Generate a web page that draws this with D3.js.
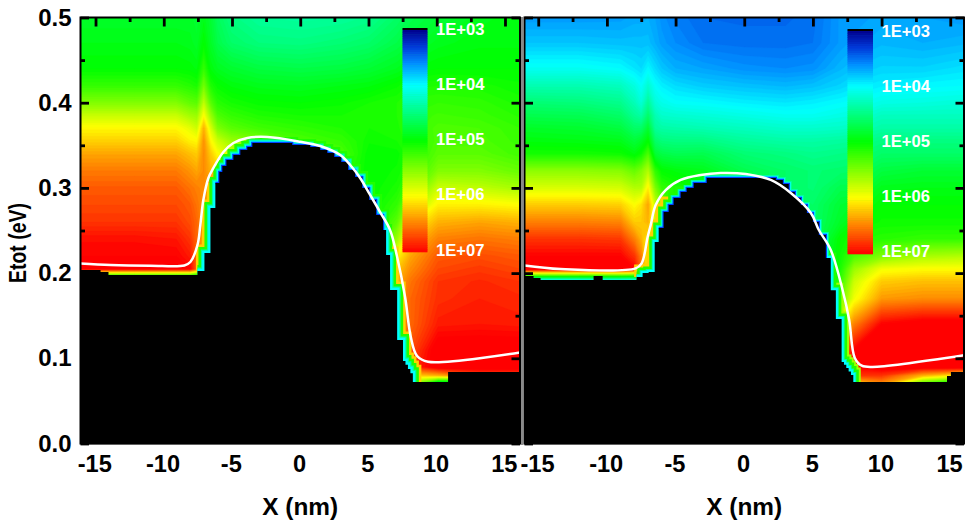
<!DOCTYPE html>
<html><head><meta charset="utf-8">
<script src="https://cdn.jsdelivr.net/npm/d3@7"></script>
<style>html,body{margin:0;padding:0;background:#fff}svg{display:block}text{font-family:"Liberation Sans",Arial,sans-serif;font-weight:bold}</style>
</head><body><svg id="c" width="968" height="522"></svg>
<script>
// grid knots (nm, eV)
const gridX=[-16,-12,-9,-8,-7.5,-7,-6.5,-6,-5,-3,0,3,5,7,8,10,13,16];
const gridE=[.5,.47,.44,.42,.40,.385,.37,.355,.34,.32,.30,.28,.26,.24,.22,.205,.19,.17,.14,.11,.09,.08,.07,.04];
// log10 density, one row per gridE
const densityLeft=[
4.85,4.85,4.85,4.85,4.82,4.9,4.8,4.65,4.5,4.4,4.38,4.4,4.45,4.6,4.7,4.8,4.9,4.95,
4.92,4.92,4.92,4.9,4.85,5.0,4.85,4.72,4.6,4.52,4.5,4.55,4.6,4.72,4.8,4.9,4.95,4.95,
5.0,5.0,5.0,4.98,4.95,5.2,4.95,4.88,4.82,4.75,4.72,4.75,4.8,4.88,4.95,5.0,5.0,5.0,
5.2,5.2,5.2,5.14,5.1,5.45,5.12,5.02,4.95,4.9,4.88,4.92,4.95,5.03,5.1,5.12,5.1,5.05,
5.5,5.5,5.5,5.38,5.35,5.75,5.35,5.15,5.08,5.02,5.0,5.03,5.08,5.12,5.18,5.2,5.18,5.1,
5.78,5.78,5.78,5.64,5.6,6.0,5.6,5.3,5.2,5.12,5.08,5.08,5.08,5.12,5.2,5.25,5.22,5.15,
6.02,6.02,6.02,5.9,5.8,6.3,5.85,5.5,5.35,5.25,5.18,5.12,5.08,5.1,5.2,5.3,5.28,5.2,
6.18,6.18,6.18,6.05,6.02,6.42,6.02,5.8,5.6,5.5,5.3,5.2,5.05,5.08,5.15,5.3,5.3,5.22,
6.35,6.35,6.35,6.25,6.2,6.45,6.2,6.0,5.8,5.5,5.5,5.3,5.0,5.02,5.12,5.35,5.35,5.25,
6.52,6.52,6.52,6.42,6.35,6.45,6.3,6.2,6.0,5.8,5.6,5.2,5.0,5.05,5.15,5.5,5.5,5.4,
6.65,6.65,6.65,6.55,6.5,6.45,6.4,6.3,6.0,5.8,5.6,5.2,5.0,5.1,5.3,5.8,5.75,5.65,
6.72,6.72,6.72,6.65,6.55,6.45,6.3,5.8,5.8,5.8,5.6,5.2,5.0,5.2,5.6,6.05,6.05,6.0,
6.8,6.8,6.8,6.7,6.6,6.4,6.2,5.8,5.8,5.8,5.6,5.2,5.0,5.35,5.95,6.3,6.35,6.3,
6.95,6.95,6.92,6.8,6.6,6.3,6.0,5.8,5.8,5.8,5.6,5.2,5.0,5.6,6.2,6.5,6.55,6.5,
7.0,7.0,7.0,6.9,6.6,6.2,5.8,5.8,5.8,5.8,5.6,5.2,5.2,6.0,6.35,6.65,6.7,6.65,
7.0,7.0,7.0,7.0,6.6,6.1,5.8,5.8,5.8,5.8,5.6,5.2,5.2,6.2,6.45,6.72,6.78,6.72,
3.4,3.4,3.4,3.4,3.4,3.4,3.4,3.4,3.4,3.4,3.4,3.4,5.2,6.3,6.55,6.8,6.85,6.8,
3.4,3.4,3.4,3.4,3.4,3.4,3.4,3.4,3.4,3.4,3.4,3.4,5.2,6.4,6.6,6.82,6.88,6.85,
3.4,3.4,3.4,3.4,3.4,3.4,3.4,3.4,3.4,3.4,3.4,3.4,5.2,6.4,6.6,6.9,6.92,6.9,
3.4,3.4,3.4,3.4,3.4,3.4,3.4,3.4,3.4,3.4,3.4,3.4,5.2,6.4,6.7,7.1,7.1,7.1,
3.4,3.4,3.4,3.4,3.4,3.4,3.4,3.4,3.4,3.4,3.4,3.4,5.2,6.4,6.8,7.1,7.1,7.1,
3.4,3.4,3.4,3.4,3.4,3.4,3.4,3.4,3.4,3.4,3.4,3.4,5.2,6.0,6.2,6.3,6.7,6.7,
3.4,3.4,3.4,3.4,3.4,3.4,3.4,3.4,3.4,3.4,3.4,3.4,3.4,5.0,5.5,4.4,3.8,3.8,
3,3,3,3,3,3,3,3,3,3,3,3,3,3,3,3,3,3];
const densityRight=[
3.65,3.65,3.66,3.7,3.7,3.72,3.68,3.62,3.55,3.48,3.47,3.47,3.5,3.65,3.65,3.7,3.68,3.65,
3.8,3.8,3.78,3.78,3.78,3.78,3.72,3.66,3.6,3.52,3.5,3.5,3.52,3.65,3.7,3.75,3.72,3.75,
4.05,4.05,4.0,3.92,3.88,3.98,3.88,3.8,3.72,3.68,3.62,3.6,3.62,3.75,3.8,3.85,3.85,3.9,
4.3,4.3,4.25,4.12,4.02,4.18,4.02,3.95,3.88,3.82,3.78,3.75,3.78,3.85,3.9,3.95,3.98,4.0,
4.55,4.52,4.45,4.28,4.15,4.4,4.15,4.08,4.02,4.0,3.95,3.92,3.95,4.0,4.02,4.1,4.12,4.15,
4.7,4.68,4.6,4.42,4.35,4.58,4.3,4.2,4.18,4.15,4.1,4.05,4.05,4.1,4.12,4.25,4.25,4.25,
4.85,4.82,4.75,4.6,4.6,4.8,4.4,4.35,4.33,4.3,4.25,4.2,4.2,4.22,4.25,4.35,4.35,4.35,
4.95,4.93,4.9,4.78,4.85,5.0,4.6,4.52,4.5,4.5,4.4,4.35,4.35,4.38,4.4,4.5,4.5,4.5,
5.08,5.08,5.05,4.95,5.05,5.3,4.8,4.72,4.68,4.7,4.55,4.5,4.45,4.48,4.5,4.6,4.6,4.6,
5.55,5.55,5.52,5.4,5.5,5.7,5.2,5.0,4.95,4.9,4.7,4.6,4.55,4.58,4.6,4.75,4.8,4.8,
5.85,5.85,5.83,5.7,5.7,6.05,5.5,5.2,5.1,5.0,4.7,4.6,4.55,4.7,4.7,4.9,4.92,4.92,
6.2,6.2,6.18,6.0,6.1,6.35,5.8,5.5,5.1,5.0,4.7,4.6,4.6,4.8,4.85,5.0,5.0,5.0,
6.5,6.5,6.48,6.2,6.2,6.3,5.8,5.5,5.1,5.0,4.7,4.6,4.6,4.85,4.95,5.05,5.05,5.05,
6.8,6.8,6.78,6.5,6.3,6.0,5.6,5.5,5.1,5.0,4.7,4.6,4.6,5.0,5.1,5.15,5.2,5.2,
7.0,7.0,7.0,6.8,6.5,5.9,5.6,5.5,5.1,5.0,4.7,4.6,4.6,5.05,5.3,5.5,5.65,5.7,
7.1,7.1,7.1,7.0,6.6,5.8,5.6,5.5,5.1,5.0,4.7,4.6,4.6,5.1,5.6,5.95,6.0,6.0,
3.5,3.5,3.5,3.5,3.5,3.5,3.5,3.5,3.5,3.5,3.5,3.5,4.6,5.2,5.8,6.2,6.25,6.25,
3.5,3.5,3.5,3.5,3.5,3.5,3.5,3.5,3.5,3.5,3.5,3.5,4.6,5.4,5.95,6.4,6.45,6.45,
3.5,3.5,3.5,3.5,3.5,3.5,3.5,3.5,3.5,3.5,3.5,3.5,4.6,6.0,6.5,7.0,7.1,7.1,
3.5,3.5,3.5,3.5,3.5,3.5,3.5,3.5,3.5,3.5,3.5,3.5,4.6,6.5,7.0,7.1,7.1,7.1,
3.5,3.5,3.5,3.5,3.5,3.5,3.5,3.5,3.5,3.5,3.5,3.5,4.6,6.5,7.0,7.1,7.1,7.1,
3.5,3.5,3.5,3.5,3.5,3.5,3.5,3.5,3.5,3.5,3.5,3.5,4.6,6.0,6.8,6.8,6.3,6.0,
3.5,3.5,3.5,3.5,3.5,3.5,3.5,3.5,3.5,3.5,3.5,3.5,3.5,5.0,6.0,6.4,5.2,4.5,
3,3,3,3,3,3,3,3,3,3,3,3,3,3,3,3,3,3];
// top of the black (empty) region, stepwise
const floorLeftX=[-16.1,-14.63,-14.05,-7.53,-7.02,-6.58,-6.22,-5.93,-5.71,-5.41,-4.9,-4.39,-3.88,-3.51,-.59,.73,1.46,1.98,2.49,3,3.51,4.02,4.54,5.05,5.56,6.07,6.29,6.58,7.1,7.53,7.71,7.89,8.07,8.25,10.83,16.1];
const floorLeftE=[.2036,.2013,.1978,.2025,.2236,.2764,.3057,.3187,.3257,.3327,.3386,.3445,.348,.3527,.3503,.348,.3445,.341,.3363,.3304,.321,.3128,.2999,.2858,.2682,.2506,.2212,.1802,.1215,.0968,.0925,.0875,.0825,.0722,.0839,.0839];
const floorRightX=[-16,-15.34,-14.83,-10.97,-10.31,-7.84,-7.4,-6.96,-6.52,-6.23,-5.87,-5.5,-5.14,-4.63,-4.19,-3.68,-2.73,2.3,2.81,3.24,3.68,4.12,4.56,5,5.43,5.94,6.3,6.67,7.09,7.26,7.43,7.6,7.77,7.94,14.76,15.05,16];
const floorRightE=[.1966,.1942,.1919,.1966,.1919,.1954,.2001,.2013,.2365,.2529,.2717,.2799,.2881,.2952,.2999,.3057,.3116,.3093,.3046,.2952,.2881,.2799,.2705,.26,.2447,.2177,.18,.1462,.0957,.0925,.0885,.0845,.0805,.0722,.0792,.0839,.0839];
// white curves
const curveLeftX=[-16.1,-13.9,-10.97,-8.49,-8.05,-7.53,-7.32,-7.1,-6.73,-6.36,-5.63,-4.9,-3.88,-2.41,0,1.46,2.93,3.66,4.39,5.12,5.85,6.58,7.1,7.68,8.1,8.56,9.36,16.1];
const curveLeftE=[.2113,.2095,.2087,.2089,.213,.233,.2565,.2858,.3116,.3234,.3421,.3527,.3586,.3597,.3542,.3492,.3386,.3269,.3116,.2917,.2717,.2506,.2189,.172,.125,.1027,.096,.1068];
const curveRightX=[-16,-13.37,-7.91,-7.47,-7.03,-6.81,-6.45,-5.72,-4.63,-3.17,-1.71,.11,1.93,3.39,4.85,5.43,6.3,7.16,7.64,8.05,8.56,9.34,16];
const curveRightE=[.209,.2048,.2056,.2115,.2427,.2565,.2799,.2975,.3093,.3151,.3175,.3163,.3093,.294,.2705,.2506,.2271,.1802,.145,.1004,.0913,.0898,.1035];
// colour bar
const barLabels=["1E+03","1E+04","1E+05","1E+06","1E+07"];
const barValues=[3,4,5,6,7];
const xMajor=[-15,-10,-5,0,5,10,15];
const xMinor=[-12.5,-7.5,-2.5,2.5,7.5,12.5];
const yMajor=[0,.1,.2,.3,.4,.5];
const yMinor=[.05,.15,.25,.35,.45];
const xTitle="X (nm)", yTitle="Etot (eV)";

const svg=d3.select("#c");
const color=d3.scaleLinear().domain([3,3.3,3.6,4,5,6,6.5,7])
  .range(["#00008c","#0038d8","#008cff","#00ffff","#00ff00","#ffff00","#ff8000","#ff0000"]).clamp(true);
const fmt=d3.format(".1f");
const y=d3.scaleLinear().domain([0,.5]).range([443.5,17.5]);
const thresholds=d3.range(3,7.2,.04);

function panel(o){
  const x=d3.scaleLinear().domain(o.dom).range(o.rng);
  const g=svg.append("g");
  const id="clip"+o.id;
  svg.append("defs").append("clipPath").attr("id",id).append("rect")
    .attr("x",o.rng[0]).attr("y",17.5).attr("width",o.rng[1]-o.rng[0]).attr("height",427);
  const f=g.append("g").attr("clip-path",`url(#${id})`);
  f.append("rect").attr("x",o.rng[0]).attr("y",17.5).attr("width",o.rng[1]-o.rng[0]).attr("height",426).attr("fill",color(3));
  const n=gridX.length,m=gridE.length;
  const sx=d3.scaleLinear().domain([0,...gridX.map((d,i)=>i+.5),n]).range([gridX[0],...gridX,gridX[n-1]].map(v=>x(v*o.stretch)));
  const sy=d3.scaleLinear().domain([0,...gridE.map((d,j)=>j+.5),m]).range([gridE[0],...gridE,gridE[m-1]].map(v=>y(v)));
  const proj=d3.geoTransform({point(a,b){this.stream.point(sx(a),sy(b));}});
  const path=d3.geoPath(proj);
  f.append("g").selectAll("path").data(d3.contours().size([n,m]).thresholds(thresholds)(o.density))
    .join("path").attr("d",path).attr("fill",d=>color(d.value+.02)).attr("stroke",d=>color(d.value+.02)).attr("stroke-width",.3);
  // rim along the surface
  const pts=o.floorX.map((v,i)=>[v,o.floorE[i]]);
  const line=d3.line().curve(d3.curveStepAfter).x(d=>x(d[0])).y(d=>y(d[1]));
  o.rim.forEach(r=>{
    f.append("path").datum(pts.filter(p=>p[0]>=r[0]&&p[0]<=r[1])).attr("d",line)
      .attr("fill","none").attr("stroke",r[3]).attr("stroke-width",r[2]).attr("stroke-linejoin","miter");
  });
  const area=d3.area().curve(d3.curveStepAfter).x(d=>x(d[0])).y0(y(0)+1).y1(d=>y(d[1]));
  f.append("path").datum(pts).attr("d",area).attr("fill","#000");
  const cl=d3.line().curve(d3.curveCatmullRom.alpha(.5)).x(d=>x(d[0])).y(d=>y(d[1]));
  f.append("path").datum(o.curveX.map((v,i)=>[v,o.curveE[i]])).attr("d",cl)
    .attr("fill","none").attr("stroke","#fff").attr("stroke-width",2.5);
  // colour bar
  const by=d3.scaleLinear().domain([3,7]).range(o.barY);
  const ly=d3.scaleLinear().domain([3,7]).range(o.labelY);
  const levels=thresholds.filter(t=>t<7);
  g.append("g").selectAll("rect").data(levels).join("rect")
    .attr("x",o.barX[0]).attr("width",o.barX[1]-o.barX[0])
    .attr("y",d=>by(d)-.3).attr("height",by(.04+3)-by(3)+.6).attr("fill",d=>color(d+.02));
  g.append("rect").attr("x",o.barX[0]).attr("width",o.barX[1]-o.barX[0]).attr("y",o.barY[0]-2).attr("height",2).attr("fill","#000");
  g.append("g").selectAll("text").data(barValues).join("text")
    .attr("x",o.barX[1]+8.5).attr("y",d=>ly(d)).attr("fill","#fff").attr("font-size",16.6)
    .text((d,i)=>barLabels[i]);
  // frame and ticks
  const fr=g.append("g");
  fr.append("rect").attr("x",o.rng[0]).attr("y",y(.5)).attr("width",o.rng[1]-o.rng[0]).attr("height",y(0)-y(.5))
    .attr("fill","none").attr("stroke","#000").attr("stroke-width",2);
  const ax=(axis,tr,vals,len)=>{
    const a=fr.append("g").attr("transform",tr).call(axis.tickValues(vals).tickSize(len).tickFormat("").tickSizeOuter(0));
    a.select(".domain").remove();
    a.selectAll("line").attr("stroke","#000").attr("stroke-width",2.8);
  };
  const T=`translate(0,${y(.5)})`,B=`translate(0,${y(0)})`,L=`translate(${o.rng[0]},0)`,R=`translate(${o.rng[1]},0)`;
  ax(d3.axisBottom(x),T,xMajor,9); ax(d3.axisBottom(x),T,xMinor,4.5);
  ax(d3.axisTop(x),B,xMajor,9); ax(d3.axisTop(x),B,xMinor,4.5);
  ax(d3.axisRight(y),L,yMajor,8.5); ax(d3.axisRight(y),L,yMinor,4.5);
  ax(d3.axisLeft(y),R,yMajor,8.5); ax(d3.axisLeft(y),R,yMinor,4.5);
  g.append("g").selectAll("text").data(xMajor).join("text")
    .attr("x",d=>x(d)-.7).attr("y",471.5).attr("text-anchor","middle").attr("font-size",23.6).text(d=>d);
  g.append("text").attr("x",(o.rng[0]+o.rng[1])/2).attr("y",515).attr("text-anchor","middle").attr("font-size",24.4).text(xTitle);
}

panel({id:"L",dom:[-16.1,16.1],rng:[80.5,520],stretch:1.01,density:densityLeft,floorX:floorLeftX,floorE:floorLeftE,
  curveX:curveLeftX,curveE:curveLeftE,barX:[402.5,427.5],barY:[30,252],labelY:[35,255.5],
  rim:[[-7.6,-6.2,17,"#ffd000"],[6.2,8.4,17,"#ffd000"],[-7.6,8.4,12,"#20ff00"],[-7.6,8.4,7,"#00ffa0"],[-7.6,8.4,4.5,"#00ffff"],[-6.3,6.2,2.4,"#0040ff"]]});
panel({id:"R",dom:[-16,16],rng:[524.5,964],stretch:1,density:densityRight,floorX:floorRightX,floorE:floorRightE,
  curveX:curveRightX,curveE:curveRightE,barX:[847.5,873],barY:[31,254],labelY:[37,257],
  rim:[[-7.9,-5,17,"#ffd000"],[6.2,8.2,15,"#a0ff00"],[-7.9,-4,11,"#20ff00"],[5.9,8.2,11,"#20ff00"],[-7.9,8.2,6,"#00ffa0"],[-7.9,8.2,4,"#00ffff"],[-6.3,6.2,2.4,"#0040ff"]]});

// axis labels shared on the left
svg.append("g").selectAll("text").data(yMajor).join("text")
  .attr("x",71.5).attr("y",d=>y(d)+8).attr("text-anchor","end").attr("font-size",24).text(d=>fmt(d));
svg.append("text").attr("transform","translate(26,243) rotate(-90) scale(.79,1)").attr("text-anchor","middle").attr("font-size",24.6).text(yTitle);
// divider
svg.append("rect").attr("x",521).attr("y",17).attr("width",2.2).attr("height",428).attr("fill","#8a8a8a");
</script></body></html>
